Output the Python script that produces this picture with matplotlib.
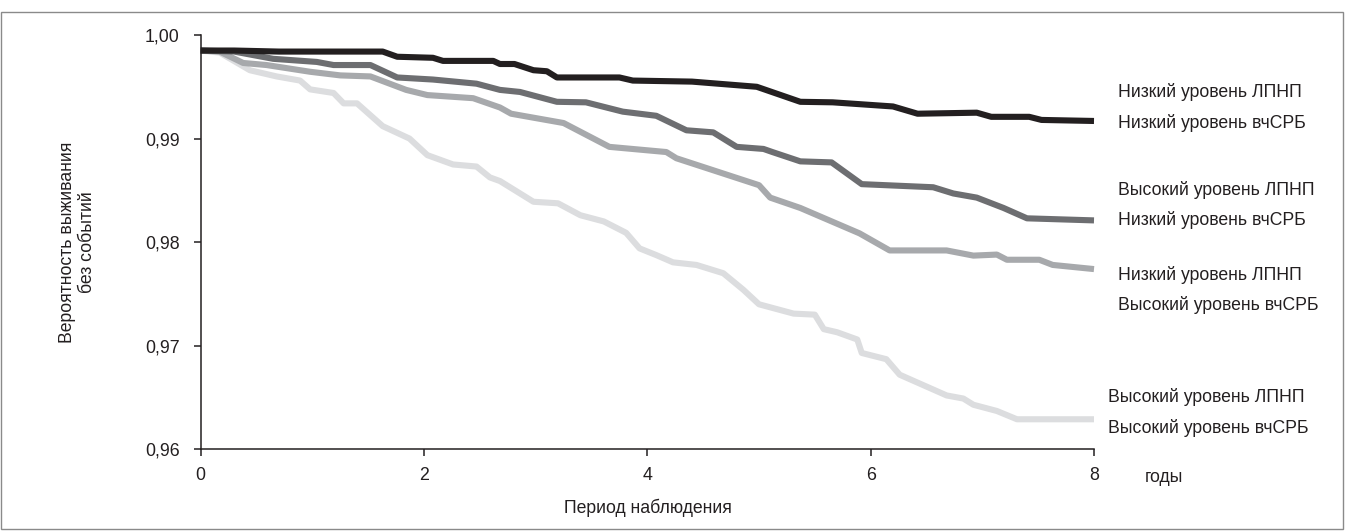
import matplotlib
matplotlib.use("Agg")
import matplotlib.pyplot as plt
from matplotlib.patches import Rectangle

# ---- data ----
t_black = [0, 0.3, 0.7, 1.0, 1.3, 1.63, 1.76, 2.08, 2.17, 2.62, 2.68, 2.81, 2.98, 3.1, 3.19,
           3.75, 3.87, 4.4, 4.98, 5.37, 5.66, 6.2, 6.42, 6.95, 7.08, 7.42, 7.53, 8.0]
v_black = [0.9985, 0.9985, 0.9984, 0.9984, 0.9984, 0.9984, 0.9979, 0.9978, 0.9975, 0.9975,
           0.9972, 0.9972, 0.9966, 0.9965, 0.9959, 0.9959, 0.9956, 0.9955, 0.9950, 0.99355,
           0.9935, 0.9931, 0.9924, 0.9925, 0.9921, 0.9921, 0.9918, 0.9917]

t_dark = [0, 0.3, 0.65, 1.04, 1.19, 1.52, 1.76, 2.08, 2.47, 2.68, 2.86, 3.19, 3.45, 3.78, 4.08,
          4.35, 4.59, 4.80, 5.04, 5.12, 5.37, 5.65, 5.92, 6.56, 6.74, 6.95, 7.19, 7.40, 8.0]
v_dark = [0.9985, 0.9984, 0.9977, 0.9974, 0.9971, 0.9971, 0.9959, 0.9957, 0.9953, 0.9947,
          0.9945, 0.99355, 0.9935, 0.9926, 0.9922, 0.9908, 0.9906, 0.9892, 0.9890, 0.9887,
          0.9878, 0.9877, 0.9856, 0.9853, 0.9847, 0.9843, 0.9833, 0.9823, 0.9821]

t_mid = [0, 0.17, 0.38, 0.59, 0.98, 1.25, 1.52, 1.84, 2.03, 2.44, 2.68, 2.78, 3.25, 3.66, 4.17,
         4.26, 5.0, 5.10, 5.37, 5.90, 6.17, 6.68, 6.92, 7.13, 7.22, 7.51, 7.63, 8.0]
v_mid = [0.9985, 0.9984, 0.9973, 0.9971, 0.99645, 0.9961, 0.9960, 0.9947, 0.9942, 0.9939,
         0.9930, 0.9924, 0.9915, 0.9892, 0.9887, 0.9881, 0.9855, 0.9843, 0.9833, 0.98085,
         0.9792, 0.9792, 0.9787, 0.9788, 0.9783, 0.9783, 0.9778, 0.9774]

t_light = [0, 0.17, 0.44, 0.68, 0.89, 0.98, 1.19, 1.28, 1.40, 1.63, 1.87, 2.03, 2.26, 2.47,
           2.59, 2.68, 2.98, 3.20, 3.40, 3.61, 3.81, 3.93, 4.08, 4.23, 4.44, 4.68, 4.86, 5.0,
           5.31, 5.50, 5.58, 5.70, 5.88, 5.92, 6.14, 6.26, 6.68, 6.83, 6.92, 7.13, 7.31, 8.0]
v_light = [0.9985, 0.9983, 0.9966, 0.9960, 0.9956, 0.99475, 0.9944, 0.9934, 0.9934, 0.9912,
           0.9900, 0.9884, 0.9875, 0.9873, 0.98625, 0.9859, 0.9839, 0.98375, 0.9826, 0.9820,
           0.9809, 0.9794, 0.97875, 0.97805, 0.9778, 0.9770, 0.9754, 0.9740, 0.9731, 0.9730,
           0.9716, 0.9713, 0.9706, 0.9693, 0.9687, 0.9672, 0.9652, 0.9649, 0.9643, 0.9637,
           0.9629, 0.9629]

x_ticks = [0, 2, 4, 6, 8]
y_ticks = [0.96, 0.97, 0.98, 0.99, 1.00]
y_ticklabels = ["0,96", "0,97", "0,98", "0,99", "1,00"]

labels_black = ["Низкий уровень ЛПНП", "Низкий уровень вчСРБ"]
labels_dark = ["Высокий уровень ЛПНП", "Низкий уровень вчСРБ"]
labels_mid = ["Низкий уровень ЛПНП", "Высокий уровень вчСРБ"]
labels_light = ["Высокий уровень ЛПНП", "Высокий уровень вчСРБ"]

# ---- figure ----
W, H = 1345, 531
plt.rcParams['font.family'] = ['Liberation Sans', 'DejaVu Sans']
fig = plt.figure(figsize=(W / 100, H / 100), dpi=100)

def fx(x):
    return x / W

def fy(y):
    return 1 - y / H

ax = fig.add_axes([fx(200.7), fy(449.3), fx(1094) - fx(200.7), fy(35) - fy(449.3)])

lw = 4.4
c_black, c_dark, c_mid, c_light = '#231f20', '#6d6e71', '#a7a9ac', '#dcdddf'
for t, v, c in [(t_light, v_light, c_light), (t_mid, v_mid, c_mid),
                (t_dark, v_dark, c_dark), (t_black, v_black, c_black)]:
    ax.plot(t, v, color=c, lw=lw, solid_joinstyle='round', solid_capstyle='butt',
            clip_on=False)

ax.set_xlim(0, 8)
ax.set_ylim(0.96, 1.00)
ax.set_xticks(x_ticks)
ax.set_xticklabels([str(x) for x in x_ticks])
ax.set_yticks(y_ticks)
ax.set_yticklabels(y_ticklabels)
for s in ['top', 'right']:
    ax.spines[s].set_visible(False)
for s in ['left', 'bottom']:
    ax.spines[s].set_linewidth(1.1)
    ax.spines[s].set_color('#231f20')
ax.tick_params(axis='both', direction='out', length=5, width=1.1, color='#231f20',
               labelsize=12.8, labelcolor='#231f20')
ax.tick_params(axis='y', pad=10)
ax.tick_params(axis='x', pad=8)

tc = '#231f20'
fs = 12.7
def pair(x, y1, y2, lines):
    fig.text(fx(x), fy(y1), lines[0], ha='left', va='center', fontsize=fs, color=tc)
    fig.text(fx(x), fy(y2), lines[1], ha='left', va='center', fontsize=fs, color=tc)

pair(1118, 91.7, 123.3, labels_black)
pair(1118, 190, 220, labels_dark)
pair(1118, 275, 305, labels_mid)
pair(1108, 396.7, 428.3, labels_light)

fig.text(fx(1145), fy(477), "годы", ha='left', va='center', fontsize=fs, color=tc)
fig.text(fx(648), fy(508), "Период наблюдения", ha='center', va='center', fontsize=fs, color=tc)
fig.text(fx(77.5), fy(242), "Вероятность выживания\nбез событий", ha='center', va='center',
         rotation=90, fontsize=fs, color=tc, linespacing=1.2)

fig.patches.append(Rectangle((fx(1), fy(529)), fx(1343) - fx(1), fy(12) - fy(529),
                             transform=fig.transFigure, fill=False, edgecolor='#8a8a8a',
                             linewidth=1.0))

fig.savefig("out.png", dpi=100)
